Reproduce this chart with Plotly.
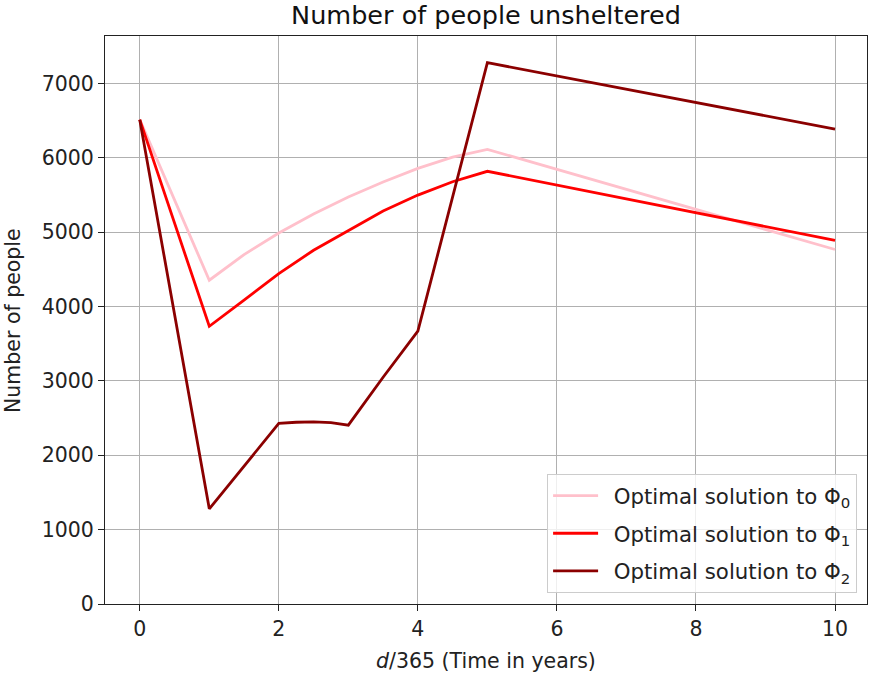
import plotly.graph_objects as go

years = [0, 1, 1.5, 2, 2.5, 3, 3.5, 4, 4.5, 5, 10]
phi0 = [6515, 4355, 4700, 4990, 5245, 5474, 5676, 5860, 6010, 6115, 4768]
phi1 = [6515, 3735, 4086, 4445, 4758, 5027, 5287, 5500, 5680, 5820, 4892]

years2 = [0, 1, 2, 2.25, 2.5, 2.75, 3, 3.5, 4, 5, 10]
phi2 = [6515, 1280, 2429, 2445, 2450, 2440, 2406, 3050, 3670, 7281, 6389]

names = ["\u2002Optimal solution to Φ<sub>0</sub>",
         "\u2002Optimal solution to Φ<sub>1</sub>",
         "\u2002Optimal solution to Φ<sub>2</sub>"]
colors = ["#FFC0CB", "#FF0000", "#8B0000"]

FONT = "DejaVu Sans, Verdana, sans-serif"
TXT = "#222222"

fig = go.Figure()
for i, (x, y) in enumerate([(years, phi0), (years, phi1), (years2, phi2)]):
    fig.add_trace(go.Scatter(x=x, y=y, mode="lines", name=names[i],
                             legendgroup=f"g{i}",
                             line=dict(color=colors[i], width=2.8)))

axis_common = dict(showline=True, linecolor=TXT, linewidth=1.2, mirror=True,
                   ticks="outside", ticklen=6, tickwidth=1.2, tickcolor=TXT,
                   showgrid=True, gridcolor="#b0b0b0", gridwidth=1.1,
                   zeroline=False, automargin=False,
                   tickfont=dict(size=20.5, color=TXT, family=FONT))

fig.update_layout(
    width=869, height=675,
    paper_bgcolor="white", plot_bgcolor="white",
    margin=dict(l=105, r=2, t=36, b=71),
    font=dict(family=FONT, color=TXT),
    title=dict(text="Number of people unsheltered", x=0.5, xref="paper",
               yref="container", y=1 - 15 / 675, yanchor="middle",
               font=dict(size=25.5, family=FONT, color="#111111")),
    xaxis=dict(range=[-0.5, 10.46], tickvals=[0, 2, 4, 6, 8, 10], **axis_common),
    yaxis=dict(range=[0, 7640], tickvals=[0, 1000, 2000, 3000, 4000, 5000, 6000, 7000],
               **axis_common),
    legend=dict(x=0.987, y=0.019, xanchor="right", yanchor="bottom",
                bgcolor="rgba(255,255,255,0.8)", bordercolor="#cccccc", borderwidth=1,
                font=dict(size=21.3, family=FONT, color=TXT),
                tracegroupgap=7, itemwidth=45),
    showlegend=True,
    annotations=[
        dict(text="<i>d</i>/365 (Time in years)", xref="paper", yref="paper",
             x=0.5, y=-(661 - 604) / 568.3, xanchor="center", yanchor="middle",
             showarrow=False, font=dict(size=20.5, family=FONT, color=TXT)),
        dict(text="Number of people", xref="paper", yref="paper",
             x=(13 - 105) / 761.7, y=0.5, xanchor="center", yanchor="middle",
             textangle=-90, showarrow=False,
             font=dict(size=20.5, family=FONT, color=TXT)),
    ],
)

fig.write_html("out.html", config={"displayModeBar": False},
               post_script="document.body.style.margin='0';document.body.style.padding='0';")
